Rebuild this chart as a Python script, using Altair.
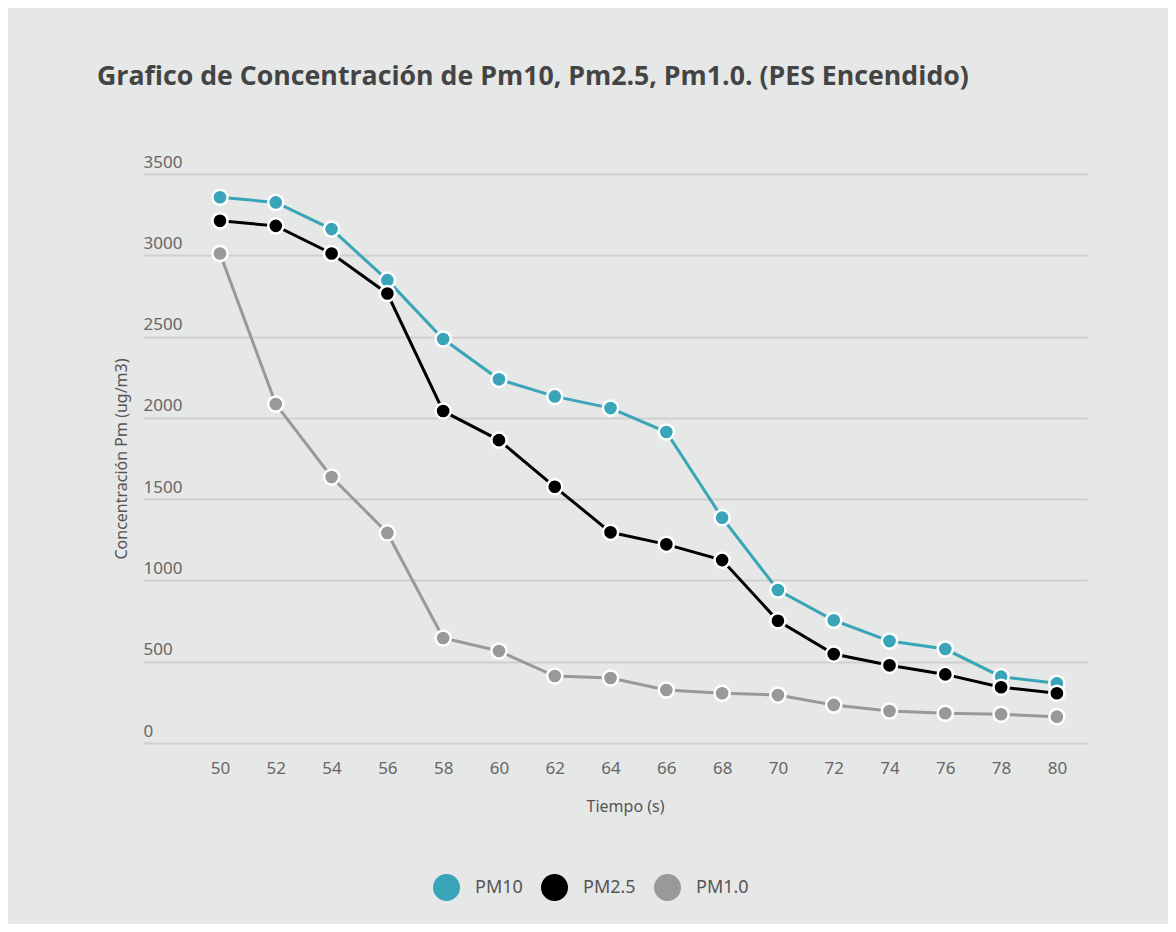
import altair as alt
import pandas as pd

tiempo = [50, 52, 54, 56, 58, 60, 62, 64, 66, 68, 70, 72, 74, 76, 78, 80]
pm10 = [3357, 3325, 3161, 2847, 2485, 2237, 2132, 2060, 1913, 1386, 941, 755, 627, 578, 408, 367]
pm25 = [3212, 3181, 3011, 2765, 2042, 1863, 1576, 1296, 1222, 1125, 752, 547, 478, 422, 343, 306]
pm1 = [3011, 2085, 1636, 1292, 646, 566, 412, 400, 326, 306, 295, 234, 197, 183, 177, 162]
series = ["PM10", "PM2.5", "PM1.0"]
colors = ["#3aa5b8", "#000000", "#999999"]
y_ticks = [0, 500, 1000, 1500, 2000, 2500, 3000, 3500]

rows = []
for name, vals in zip(series, [pm10, pm25, pm1]):
    for t, v in zip(tiempo, vals):
        rows.append({"Tiempo": t, "Valor": v, "Serie": name})
df = pd.DataFrame(rows)

FONT = "Noto Sans"
W, H = 944, 569

x = alt.X(
    "Tiempo:Q",
    scale=alt.Scale(domain=[47.24, 81.08], nice=False, zero=False),
    axis=alt.Axis(
        values=tiempo, grid=False, domain=False, ticks=False, tickSize=0,
        labelPadding=17, labelFont=FONT, labelFontSize=17, labelColor="#666666",
        title="Tiempo (s)", titleFont=FONT, titleFontSize=16, titleFontWeight="normal",
        titleColor="#555555", titleX=482, titleY=63, titleBaseline="middle", titleAlign="center",
    ),
)
y = alt.Y(
    "Valor:Q",
    scale=alt.Scale(domain=[0, 3500], nice=False),
    axis=alt.Axis(
        values=y_ticks, format="d", grid=True, gridColor="#cfcfcf", gridWidth=2, domain=False,
        ticks=False, tickSize=0, labelPadding=0, labelAlign="left", labelBaseline="alphabetic",
        labelOffset=-7, labelFont=FONT, labelFontSize=17, labelColor="#666666",
        title="Concentración Pm (ug/m3)", titleFont=FONT, titleFontSize=16,
        titleFontWeight="normal", titleColor="#555555", titleAngle=270,
        titleX=-22, titleY=H / 2, titleBaseline="middle", titleAlign="center",
    ),
)
color_scale = alt.Scale(domain=series, range=colors)
legend = alt.Legend(
    title=None, orient="none", legendX=290, legendY=700, direction="horizontal",
    symbolType="circle", symbolSize=729, symbolStrokeWidth=0, symbolOpacity=1,
    labelFont=FONT, labelFontSize=18, labelColor="#555555",
    labelOffset=15, columnPadding=18,
)

lines = alt.Chart(df).mark_line(strokeWidth=3).encode(
    x=x, y=y, color=alt.Color("Serie:N", scale=color_scale, legend=legend),
)
points = alt.Chart(df).mark_circle(
    size=230, stroke="white", strokeWidth=2.5, opacity=1, strokeOpacity=1
).encode(
    x=x, y=y,
    color=alt.Color("Serie:N", scale=color_scale, legend=legend),
)

chart = (
    alt.layer(lines, points)
    .properties(
        width=W, height=H,
        background="#e6e7e7",
        padding={"left": 135, "top": 166, "right": 81, "bottom": 181},
        autosize=alt.AutoSizeParams(type="none"),
        title=alt.TitleParams(
            "Grafico de Concentración de Pm10, Pm2.5, Pm1.0. (PES Encendido)",
            anchor="start", frame="group", dx=-46, dy=-58, font="Open Sans", fontSize=26.7,
            fontWeight="bold", color="#444444",
        ),
    )
    .configure_view(stroke=None)
)

chart.save("out.html", embed_options={"renderer": "svg", "actions": False})
